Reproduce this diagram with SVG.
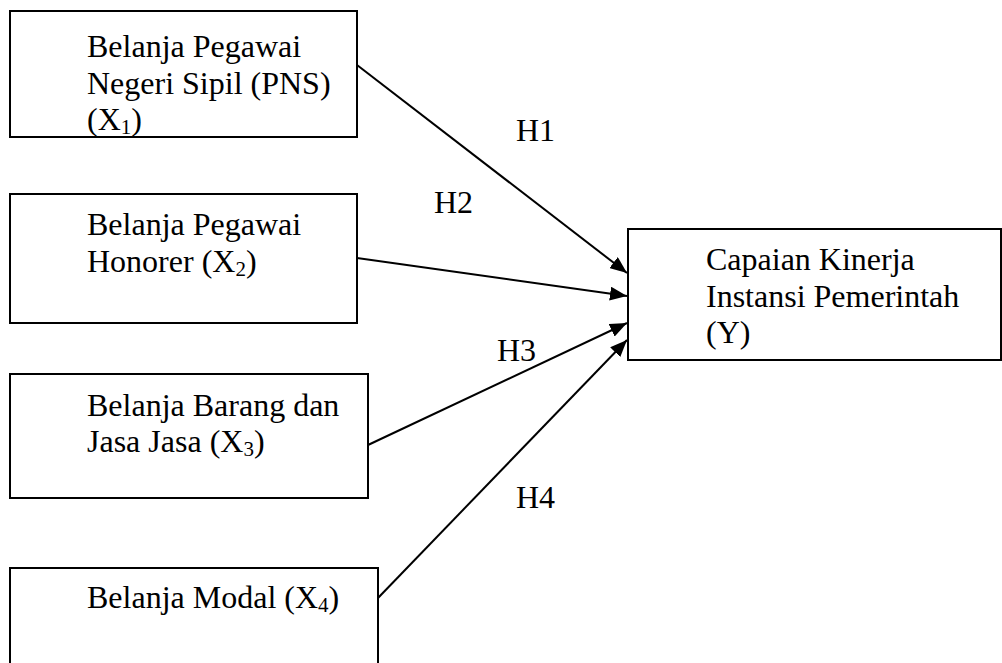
<svg xmlns="http://www.w3.org/2000/svg" width="1002" height="663" viewBox="0 0 1002 663">
<style>
.box{fill:#fff;stroke:#000;stroke-width:2}
.t{font-family:"Liberation Serif","Times New Roman",serif;font-size:32px;fill:#000}
.sub{font-size:21px}
.con{stroke:#000;stroke-width:2;fill:none;marker-end:url(#ah)}
</style>
<defs>
<marker id="ah" markerUnits="userSpaceOnUse" markerWidth="18" markerHeight="14" refX="17" refY="7" orient="auto">
<path d="M0,0 L17,7 L0,14 Z" fill="#000"/>
</marker>
</defs>
<rect width="1002" height="663" fill="#fff"/>
<g id="connectors">
<line class="con" x1="357" y1="65" x2="627" y2="273"/>
<line class="con" x1="357" y1="258" x2="627" y2="296"/>
<line class="con" x1="368" y1="445" x2="627" y2="323"/>
<line class="con" x1="378" y1="598" x2="627" y2="340"/>
</g>
<g id="labels">
<text class="t" x="516" y="141">H1</text>
<text class="t" x="434" y="213">H2</text>
<text class="t" x="497" y="361">H3</text>
<text class="t" x="516" y="508">H4</text>
</g>
<g id="x1">
<rect class="box" x="10" y="11" width="347" height="126"/>
<text class="t" x="87" y="57">Belanja Pegawai</text>
<text class="t" x="87" y="94">Negeri Sipil (PNS)</text>
<text class="t" x="87" y="130">(X<tspan class="sub" dy="4">1</tspan><tspan dy="-4">)</tspan></text>
</g>
<g id="x2">
<rect class="box" x="10" y="194" width="347" height="129"/>
<text class="t" x="87" y="235">Belanja Pegawai</text>
<text class="t" x="87" y="272">Honorer (X<tspan class="sub" dy="4">2</tspan><tspan dy="-4">)</tspan></text>
</g>
<g id="x3">
<rect class="box" x="10" y="374" width="358" height="124"/>
<text class="t" x="87" y="416">Belanja Barang dan</text>
<text class="t" x="87" y="452">Jasa Jasa (X<tspan class="sub" dy="4">3</tspan><tspan dy="-4">)</tspan></text>
</g>
<g id="x4">
<rect class="box" x="10" y="568" width="368" height="120"/>
<text class="t" x="87" y="608">Belanja Modal (X<tspan class="sub" dy="4">4</tspan><tspan dy="-4">)</tspan></text>
</g>
<g id="y">
<rect class="box" x="628" y="229" width="373" height="131"/>
<text class="t" x="706" y="270">Capaian Kinerja</text>
<text class="t" x="706" y="307">Instansi Pemerintah</text>
<text class="t" x="706" y="343">(Y)</text>
</g>
</svg>
